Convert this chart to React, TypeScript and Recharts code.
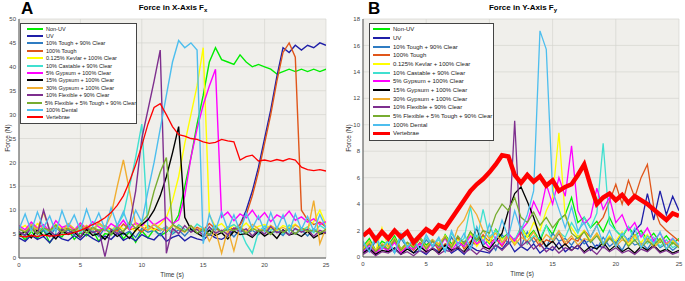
import { LineChart, Line, XAxis, YAxis, CartesianGrid, Legend } from "recharts";

// sample times (s), every 0.5 s from 0 to 25
const TIME = Array.from({ length: 51 }, (_, i) => i * 0.5);

const NAMES = [
  "Non-UV",
  "UV",
  "10% Tough + 90% Clear",
  "100% Tough",
  "0.125% Kevlar + 100% Clear",
  "10% Castable + 90% Clear",
  "5% Gypsum + 100% Clear",
  "15% Gypsum + 100% Clear",
  "30% Gypsum + 100% Clear",
  "10% Flexible + 90% Clear",
  "5% Flexible + 5% Tough + 90% Clear",
  "100% Dental",
  "Vertebrae",
];

const COLORS = [
  "#00ee00", "#1f1fa8", "#2f7cc2", "#e0561a", "#ffff00", "#40e0d0", "#ff00ff",
  "#000000", "#f0ad30", "#7e2f8e", "#77ac30", "#4dbeee", "#ff0000",
];

// ---- Fx (N) ----
const fxNonUv = [5.2,3.8,5.6,4.1,5.9,3.2,5.0,4.4,6.1,3.9,5.3,4.6,5.8,3.5,5.1,4.8,6.2,4.0,5.5,3.3,5.7,4.2,6.0,4.7,5.4,6.8,
  9,15,21,28,34,41,44,41.5,41,40.5,42.5,41,40,40.5,40,39.5,38.5,39,39.5,39,39.5,39,39.5,39,39.5];
const fxUv = [4.2,3.5,4.8,3.9,4.5,3.2,4.9,4.0,3.6,4.7,3.8,5.0,4.1,3.4,4.6,3.9,5.2,3.7,4.4,3.6,4.9,4.2,3.8,5.1,3.5,4.3,4.8,3.6,4.5,4.0,3.7,5.0,4.2,3.9,4.6,5.8,7.0,
  10,14,19,25,31,38,44,43,44.5,43.5,44.5,44,45,44.5];
const fxTough10 = [5.5,4.6,6.2,5.0,5.8,4.4,6.4,5.2,5.9,4.8,6.1,5.3,5.7,4.5,6.3,5.1,6.0,4.9,5.6,4.3,6.2,5.4,5.8,4.7,6.5,5.0,5.9,4.6,6.1,5.2,
  5.7,4.8,6.3,5.5,5.9,4.4,6.0,5.1,5.8,4.9,6.2,5.3,5.6,4.7,6.4,5.0,5.9,4.6,6.1,5.2,5.5];
const fxTough100 = [6.2,5.4,6.8,5.7,6.5,5.1,7.0,5.9,6.3,5.5,6.9,5.8,6.4,5.2,6.7,6.0,5.6,7.1,5.9,6.3,5.4,6.8,6.1,5.7,6.6,5.3,6.9,6.0,5.5,6.4,5.8,7.2,6.1,5.6,6.5,6.0,7.0,
  9,13,18,24,30,37,43,45,42,10,8,7,7.5,6.5];
const fxKevlar = [6.0,6.8,5.5,7.2,6.3,5.8,7.0,6.1,6.6,5.4,7.3,6.2,5.9,6.9,6.4,5.7,7.1,6.0,6.5,5.6,7.4,6.3,5.8,7.0,8.5,
  12,17,24,30,36,44,9,6.5,7.2,5.8,6.9,6.1,7.3,5.9,6.6,7.0,6.2,5.7,6.8,6.3,7.1,5.9,6.5,7.6,10,7.0];
const fxCastable = [6.5,5.3,7.0,5.9,6.2,5.0,6.8,5.6,7.1,6.0,5.4,6.6,5.8,7.2,6.1,5.5,6.9,
  9,15,21,28,6,
  7.0,5.8,6.5,5.2,6.9,6.0,5.5,7.1,6.2,5.7,6.8,5.4,6.4,7.0,5.9,3.0,1.0,5.5,6.7,5.8,6.3,5.1,6.9,6.0,5.6,6.5,5.3,6.8,6.0];
const fxGypsum5 = [6.8,5.9,7.5,6.2,7.0,5.6,7.8,6.4,6.9,5.8,7.3,6.1,7.6,6.5,5.7,7.2,6.3,7.9,6.0,7.4,6.6,8.2,6.9,7.7,8.5,7.2,
  8,13,21,27,32,36,39.5,
  8.5,9.6,7.8,9.2,8.4,10.0,8.1,9.5,7.6,9.0,8.3,9.8,7.9,8.6,7.5,8.2,7.0,7.6];
const fxGypsum15 = [4.8,5.5,4.2,5.9,4.6,5.2,4.0,5.7,4.9,5.4,4.3,6.0,4.7,5.1,3.9,5.6,4.5,5.3,4.1,5.8,
  7,8,10,13,17,22,27.5,8.5,6,
  5.2,4.4,5.8,4.7,5.3,4.0,5.6,4.9,5.1,4.3,5.7,4.6,5.4,4.1,5.9,4.8,5.2,4.5,5.6,4.2,5.0,5.3];
const fxGypsum30 = [6.2,5.5,7.0,6.0,9.5,5.8,6.6,5.3,7.2,6.1,5.7,6.8,5.9,7.4,6.3,
  9,15,20.5,14,7,
  6.5,5.8,7.1,6.2,5.6,6.9,6.0,5.4,6.7,5.9,6.3,3.5,5.8,1.0,6.0,1.5,6.6,5.5,7.0,6.1,5.6,6.8,5.9,6.4,5.7,6.9,6.2,5.5,12,3.0,6.3];
const fxFlex10 = [5.5,4.8,6.3,5.0,10,5.7,4.6,6.1,5.2,5.9,4.4,6.4,5.3,5.8,0.3,6.0,5.1,5.6,
  7,14,25,31,37,43.5,1,
  6.2,5.1,6.8,5.4,6.0,4.7,6.5,5.2,5.8,4.9,6.3,5.5,6.1,4.6,5.9,5.0,6.6,5.3,5.7,4.8,6.2,5.4,6.0,4.5,5.8,5.2];
const fxFlexTough = [6.0,5.4,6.6,5.1,6.3,5.7,6.9,5.3,6.1,5.6,6.7,5.2,6.4,5.8,6.0,5.0,6.5,5.5,7.5,6.2,
  7.5,9,14,18,21,7,
  6.3,5.5,6.8,5.2,6.1,4.8,6.6,5.4,6.0,5.7,6.4,5.1,6.2,5.6,5.9,4.9,6.5,5.3,6.1,5.0,6.3,5.6,5.8,5.2,6.0];
const fxDental = [6.0,9.2,5.6,9.6,6.3,8.8,5.4,9.9,6.5,9.0,5.8,10.2,6.6,9.4,6.0,10.5,6.8,9.7,6.3,10.0,7.5,
  14,20,27,34,41,45.5,44,45,43.5,
  3,9.2,5.8,9.6,6.0,9.0,5.5,9.4,6.2,8.8,5.6,9.5,6.1,9.0,5.4,9.2,6.0,8.7,5.7,9.1,6.3];
const fxVertebrae = [4.6,4.4,4.7,4.5,4.8,4.6,4.7,4.9,5.0,5.3,5.8,6.3,7.0,7.6,8.4,9.5,11.0,13.0,16.0,19.5,
  23.5,28,31.5,32.3,30,27.5,25.8,25.5,25,24.8,24.3,24,24.2,24.8,24.5,24.3,20.5,21.2,21.5,20.3,
  20.5,20.2,20.6,20.3,20.8,20.5,19.0,18.5,18.3,18.5,18.2];

// ---- Fy (N) ----
const fyNonUv = [0.8,1.4,0.5,1.2,0.9,1.6,0.6,1.1,0.7,1.5,0.9,1.3,0.5,1.7,1.0,1.4,0.8,1.9,1.2,1.6,
  1.0,2.1,1.4,1.8,1.1,2.3,1.5,2.0,1.2,2.4,1.7,2.8,3.2,4.5,2.6,3.0,2.2,2.7,1.9,3.0,
  2.0,1.5,2.3,1.6,2.0,1.3,1.8,1.1,1.6,1.0,1.4];
const fyUv = [0.3,0.7,0.2,0.9,0.4,0.6,0.2,0.8,0.3,0.5,0.2,0.7,0.4,0.9,0.3,0.6,0.2,0.8,0.5,0.4,
  0.3,0.9,0.6,1.2,0.4,0.8,0.5,1.0,0.3,0.7,0.5,1.1,0.4,0.8,0.6,1.3,0.5,0.9,0.7,1.5,
  1.0,1.8,1.2,2.0,2.5,4.8,2.8,5.0,3.2,4.6,3.5];
const fyTough10 = [0.9,0.4,1.2,0.6,1.0,0.3,1.4,0.7,1.1,0.5,1.3,0.8,1.0,0.4,1.5,0.7,1.2,0.6,1.6,0.9,
  1.3,0.5,1.7,1.0,1.4,0.8,1.9,1.1,1.5,0.7,1.8,1.2,1.4,0.9,1.6,1.0,1.3,0.6,1.5,0.8,
  1.2,0.5,1.4,0.9,1.1,0.6,1.3,0.7,1.0,0.5,0.9];
const fyTough100 = [0.5,1.0,0.3,0.8,0.6,1.2,0.4,0.9,0.5,1.1,0.7,1.3,0.5,1.0,0.8,1.5,0.6,1.2,0.9,1.7,
  1.1,1.4,0.8,1.6,1.2,1.9,1.0,1.5,0.8,1.3,1.1,1.8,0.9,1.4,1.2,2.0,1.5,2.4,3.0,
  4.2,5.5,4.0,5.8,4.5,6.0,7.0,3.8,2.5,2.0,1.6,1.2];
const fyKevlar = [0.6,1.1,0.4,2.2,0.7,1.3,0.5,1.0,0.8,1.4,0.6,1.2,0.9,1.6,0.7,1.3,1.0,1.8,0.8,1.5,
  1.1,2.0,1.3,1.7,1.0,2.2,1.5,2.6,2.0,3.5,4.5,9.4,3.0,2.2,1.5,2.0,1.2,1.8,1.0,1.6,
  1.2,1.9,0.9,1.5,1.1,1.7,0.8,1.4,1.0,1.2,0.7];
const fyCastable = [1.0,0.5,1.4,0.7,1.2,0.4,1.6,0.8,1.1,0.6,1.5,0.9,1.3,0.5,1.8,1.0,1.4,3.8,1.2,3.6,
  1.5,2.0,1.1,1.7,1.3,2.2,1.0,1.6,1.4,2.4,1.2,1.9,1.5,2.6,1.8,3.0,2.2,3.3,8.6,2.5,
  2.0,1.6,2.3,1.2,1.8,1.0,1.5,0.8,1.3,0.7,1.0];
const fyGypsum5 = [0.4,0.9,0.3,0.7,0.5,1.1,0.3,0.8,0.6,1.0,0.4,1.2,0.7,1.4,0.5,1.1,0.8,1.6,1.0,1.3,
  0.7,1.5,0.9,1.8,1.2,2.0,2.6,4.2,3.2,5.5,4.0,6.0,4.6,8.4,3.5,
  2.5,3.0,5.2,3.6,4.5,2.6,3.2,2.0,2.6,1.5,2.2,1.2,1.8,1.0,1.4,0.8];
const fyGypsum15 = [0.3,0.6,0.2,0.5,0.4,0.7,0.2,0.6,0.3,0.8,0.4,0.6,0.3,0.9,0.5,0.7,0.4,1.0,2.2,0.8,0.6,1.2,1.8,
  3.5,4.8,5.3,4.2,3.0,
  1.5,0.8,1.2,0.6,1.0,0.5,0.9,0.4,0.8,0.6,1.1,0.5,0.9,0.4,0.7,0.3,0.8,0.5,0.9,0.4,0.6,0.3,0.5];
const fyGypsum30 = [0.7,1.2,0.5,1.0,0.8,1.4,0.6,1.1,0.9,1.5,0.7,1.3,1.0,1.6,0.8,2.2,2.8,3.9,3.2,2.0,
  1.4,1.8,1.1,1.6,0.9,1.5,1.2,1.9,1.0,1.7,1.3,2.0,1.1,1.6,0.9,1.4,1.2,1.8,1.0,1.5,
  0.8,1.3,1.1,1.7,0.9,1.4,0.7,1.2,1.0,1.3,0.8];
const fyFlex10 = [0.2,0.5,0.1,0.4,0.3,0.6,0.2,0.4,0.1,0.5,0.3,0.7,0.2,0.5,0.4,0.8,0.3,0.6,0.2,0.7,
  0.4,0.9,0.5,1.0,10.3,0.8,1.2,0.6,1.0,0.4,0.8,0.3,0.7,0.5,0.9,0.3,0.6,0.2,0.8,0.4,
  0.7,0.3,0.5,0.2,0.6,0.4,0.8,0.3,0.5,0.2,0.4];
const fyFlexTough = [0.5,1.0,0.4,0.9,0.6,1.3,0.5,1.1,0.7,1.4,0.6,1.2,0.8,1.5,0.7,1.6,1.0,1.9,1.3,2.0,
  1.8,3.2,4.0,3.5,4.5,3.0,2.6,3.4,2.4,3.0,2.2,2.8,3.2,1.8,1.4,1.9,1.1,1.6,0.9,1.4,
  1.0,1.5,0.8,1.3,0.7,1.2,0.9,1.4,0.6,1.1,0.7];
const fyDental = [1.2,0.4,1.6,0.6,1.3,0.3,1.8,0.7,1.4,0.5,1.7,0.8,1.5,0.4,2.0,0.9,1.8,0.6,2.3,1.0,
  2.5,1.2,2.8,1.5,3.5,2.0,3.2,5,17.1,15.7,5,3.6,2.2,3.8,2.0,2.6,1.5,2.4,1.0,2.0,
  0.8,1.8,1.2,2.2,0.7,1.6,1.0,1.9,0.6,1.4,0.9];
const fyVertebrae = [1.6,2.0,1.3,1.9,1.4,2.0,1.5,1.9,1.1,1.6,2.1,1.8,2.4,2.2,2.9,3.6,4.3,5.0,5.5,5.9,
  6.4,7.0,7.7,7.6,6.2,5.6,6.2,5.7,6.1,5.4,5.8,5.0,5.3,5.5,6.2,7.0,5.4,4.0,4.5,4.8,
  4.3,4.7,4.1,4.6,4.3,4.0,3.6,3.2,2.8,3.3,3.1];

const FX = [fxNonUv, fxUv, fxTough10, fxTough100, fxKevlar, fxCastable, fxGypsum5, fxGypsum15, fxGypsum30, fxFlex10, fxFlexTough, fxDental, fxVertebrae];
const FY = [fyNonUv, fyUv, fyTough10, fyTough100, fyKevlar, fyCastable, fyGypsum5, fyGypsum15, fyGypsum30, fyFlex10, fyFlexTough, fyDental, fyVertebrae];

const X_TICKS = [0, 5, 10, 15, 20, 25];
const FX_TICKS = [0, 5, 10, 15, 20, 25, 30, 35, 40, 45, 50];
const FY_TICKS = [0, 2, 4, 6, 8, 10, 12, 14, 16, 18];

const FONT = "'Liberation Sans', Arial, sans-serif";
const tickStyle = { fontSize: 6, fill: "#444", fontFamily: FONT };

type PanelProps = {
  series: number[][];
  yMax: number;
  yTicks: number[];
  width: number;
  yAxisWidth: number;
  xAxisHeight: number;
  right: number;
  legend: { left: number; width: number; row: number; font: number; line: number; pad: number };
  lineWidth: number;
  redWidth: number;
};

function Panel({ series, yMax, yTicks, width, yAxisWidth, xAxisHeight, right, legend, lineWidth, redWidth }: PanelProps) {
  const data = TIME.map((t, i) => {
    const row: Record<string, number> = { t };
    series.forEach((vals, k) => {
      row[`s${k}`] = vals[i];
    });
    return row;
  });

  const renderLegend = (props: any) => {
    const items = [...(props.payload || [])].sort(
      (a: any, b: any) => NAMES.indexOf(a.value) - NAMES.indexOf(b.value)
    );
    return (
      <div
        style={{
          background: "#fff",
          border: "1px solid #444",
          padding: "1px 0 2px 0",
          fontFamily: FONT,
          fontSize: legend.font,
          color: "#222",
        }}
      >
        {items.map((p: any, i: number) => (
          <div key={i} style={{ display: "flex", alignItems: "center", height: legend.row, whiteSpace: "nowrap" }}>
            <span
              style={{
                display: "inline-block",
                width: legend.line,
                marginLeft: legend.pad,
                marginRight: 3,
                height: p.value === "Vertebrae" ? Math.min(3, Math.max(2, redWidth)) : 2,
                background: p.color,
              }}
            />
            <span>{p.value}</span>
          </div>
        ))}
      </div>
    );
  };

  return (
    <LineChart width={width} height={281} data={data} margin={{ top: 19, right, bottom: 0, left: 0 }}>
      <CartesianGrid stroke="#d6d6d0" strokeWidth={0.7} fill="#f0efeb" />
      <XAxis
        dataKey="t"
        type="number"
        domain={[0, 25]}
        ticks={X_TICKS}
        height={xAxisHeight}
        tickLine={false}
        tickSize={2}
        tickMargin={3}
        stroke="#555"
        tick={tickStyle}
        allowDataOverflow
      />
      <XAxis xAxisId="top" orientation="top" type="number" domain={[0, 25]} ticks={X_TICKS} height={0} tick={false} tickLine={false} stroke="#555" />
      <YAxis
        type="number"
        domain={[0, yMax]}
        ticks={yTicks}
        width={yAxisWidth}
        tickLine={false}
        tickSize={1}
        tickMargin={2}
        stroke="#555"
        tick={tickStyle}
        allowDataOverflow
      />
      <YAxis yAxisId="right" orientation="right" type="number" domain={[0, yMax]} ticks={yTicks} width={0} tick={false} tickLine={false} stroke="#555" />
      {series.map((_, k) => (
        <Line
          key={k}
          type="linear"
          dataKey={`s${k}`}
          name={NAMES[k]}
          stroke={COLORS[k]}
          strokeWidth={k === 12 ? redWidth : lineWidth}
          dot={false}
          isAnimationActive={false}
          legendType="plainline"
        />
      ))}
      <Legend
        layout="vertical"
        align="center"
        verticalAlign="middle"
        itemSorter={null as any}
        wrapperStyle={{ left: legend.left, top: 23, width: legend.width }}
        content={renderLegend}
      />
    </LineChart>
  );
}

const abs = (s: React.CSSProperties): React.CSSProperties => ({ position: "absolute", fontFamily: FONT, whiteSpace: "nowrap", ...s });

export default function App() {
  return (
    <div style={{ position: "absolute", left: 0, top: 0, width: 685, height: 281, background: "#fff", overflow: "hidden" }}>
      <div style={abs({ left: 0, top: 0 })}>
        <Panel
          series={FX}
          yMax={50}
          yTicks={FX_TICKS}
          width={340}
          yAxisWidth={19}
          xAxisHeight={23}
          right={14}
          legend={{ left: 20, width: 117, row: 7.4, font: 5.5, line: 16, pad: 6 }}
          lineWidth={1.4}
          redWidth={1.3}
        />
      </div>
      <div style={abs({ left: 340, top: 0 })}>
        <Panel
          series={FY}
          yMax={18}
          yTicks={FY_TICKS}
          width={345}
          yAxisWidth={23}
          xAxisHeight={24}
          right={6}
          legend={{ left: 29, width: 125, row: 8.67, font: 6, line: 17, pad: 3 }}
          lineWidth={1.3}
          redWidth={4.5}
        />
      </div>

      <div style={abs({ left: 21, top: 0, fontSize: 17, fontWeight: 700, lineHeight: "17px" })}>A</div>
      <div style={abs({ left: 368, top: 0, fontSize: 17, fontWeight: 700, lineHeight: "17px" })}>B</div>

      <div style={abs({ left: 173, top: 8, transform: "translate(-50%,-50%)", fontSize: 8, fontWeight: 700 })}>
        Force in X-Axis F<sub style={{ fontSize: 6 }}>x</sub>
      </div>
      <div style={abs({ left: 523, top: 8, transform: "translate(-50%,-50%)", fontSize: 8, fontWeight: 700 })}>
        Force in Y-Axis F<sub style={{ fontSize: 6 }}>y</sub>
      </div>

      <div style={abs({ left: 172, top: 274, transform: "translate(-50%,-50%)", fontSize: 6.5, color: "#333" })}>Time (s)</div>
      <div style={abs({ left: 522, top: 273, transform: "translate(-50%,-50%)", fontSize: 6.5, color: "#333" })}>Time (s)</div>

      <div style={abs({ left: 7, top: 138, transform: "translate(-50%,-50%) rotate(-90deg)", fontSize: 6.5, color: "#333" })}>Force (N)</div>
      <div style={abs({ left: 348, top: 138, transform: "translate(-50%,-50%) rotate(-90deg)", fontSize: 6.5, color: "#333" })}>Force (N)</div>
    </div>
  );
}
